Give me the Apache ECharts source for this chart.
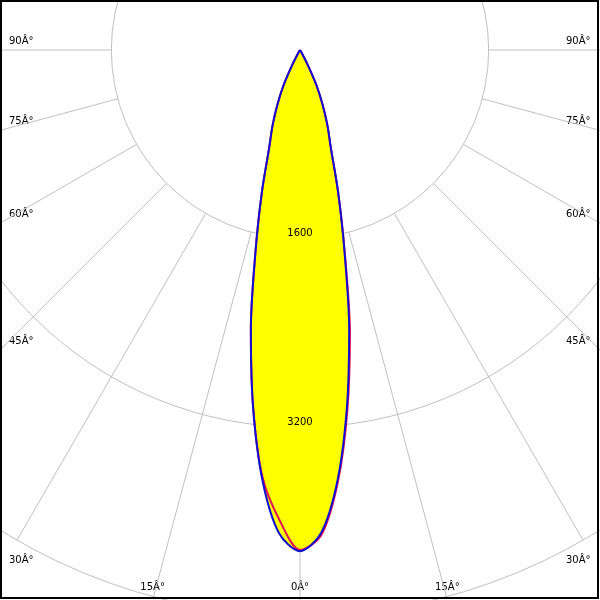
<!DOCTYPE html>
<html>
<head>
<meta charset="utf-8">
<script src="https://cdn.jsdelivr.net/npm/echarts@6/dist/echarts.min.js"></script>
<style>html,body{margin:0;padding:0;background:#fff}#c{width:600px;height:600px}</style>
</head>
<body>
<div id="c"></div>
<script>
// gamma angles (deg), negative = left side
const gammaAngles = [-90,-80,-70,-60,-50,-40,-35,-32.5,-30,-27.5,-25,-22.5,-20,-17.5,-15,-12.5,-10,-7.5,-5,-2.5,0,2.5,5,7.5,10,12.5,15,17.5,20,22.5,25,27.5,30,32.5,35,40,50,60,70,80,90];
// C0-C180 plane intensity (cd)
const intensityC0 = [0,0,0,0,0,0,0,0,30,140,330,500,680,870,1250,1740,2400,3050,3660,4100,4250,4100,3660,3050,2400,1740,1250,870,680,500,330,140,30,0,0,0,0,0,0,0,0];
// C90-C270 plane intensity (cd)
const intensityC90 = [0,0,0,0,0,0,0,0,30,140,330,500,680,870,1250,1740,2400,3050,3640,3990,4240,4120,3680,3080,2440,1750,1250,870,680,500,330,140,30,0,0,0,0,0,0,0,0];
const radiusTicks = ['1600','3200'];
const sideAngleLabels = [90,75,60,45,30];
const bottomAngleLabels = [15,0,15];
const bottomAngles = [-15,0,15];

const CX = 300, CY = 50, R = 566, RMAX = 4800;

const pairs = (vals) => vals.map((v,i)=>[v, gammaAngles[i]]);

const graphics = [];
const font = '10px "DejaVu Sans"';
sideAngleLabels.forEach(a=>{
  const rad = a*Math.PI/180;
  const yHit = CY + 300*Math.cos(rad)/Math.sin(rad);
  graphics.push({type:'text', style:{text:a+'Â°', x:9, y:yHit-9, font:font, fill:'#000', verticalAlign:'middle', align:'left'}});
  graphics.push({type:'text', style:{text:a+'Â°', x:566, y:yHit-9, font:font, fill:'#000', verticalAlign:'middle', align:'left'}});
});
bottomAngles.forEach((a,i)=>{
  const rad = a*Math.PI/180;
  const xHit = CX + 550*Math.tan(rad);
  graphics.push({type:'text', style:{text:bottomAngleLabels[i]+'Â°', x:xHit, y:587, font:font, fill:'#000', verticalAlign:'middle', align:'center'}});
});
radiusTicks.forEach((t,i)=>{
  const r = (i+1)*R/3;
  graphics.push({type:'text', z:10, style:{text:t, x:CX, y:CY+r-5, font:font, fill:'#000', verticalAlign:'middle', align:'center'}});
});
graphics.push({type:'rect', z:100, shape:{x:1,y:1,width:597,height:597}, style:{fill:null, stroke:'#000', lineWidth:2}});

const chart = echarts.init(document.getElementById('c'), null, {renderer:'canvas'});
chart.setOption({
  animation:false,
  backgroundColor:'#fff',
  polar:[{center:[CX,CY], radius:[0,R]},{center:[CX,CY], radius:[R/3,R]}],
  radiusAxis:[
    {polarIndex:0, type:'value', min:0, max:RMAX, interval:1600, axisLine:{show:false}, axisTick:{show:false}, axisLabel:{show:false}, splitLine:{show:true, lineStyle:{color:'#c0c0c0', width:1}}},
    {polarIndex:1, type:'value', min:0, max:1, axisLine:{show:false}, axisTick:{show:false}, axisLabel:{show:false}, splitLine:{show:false}}
  ],
  angleAxis:[
    {polarIndex:0, type:'value', min:-180, max:180, startAngle:90, clockwise:false, axisLine:{show:false}, axisTick:{show:false}, axisLabel:{show:false}, splitLine:{show:false}},
    {polarIndex:1, type:'value', min:-180, max:180, interval:15, startAngle:90, clockwise:false, axisLine:{show:false}, axisTick:{show:false}, axisLabel:{show:false}, splitLine:{show:true, lineStyle:{color:'#c0c0c0', width:1}}}
  ],
  series:[
    {type:'line', coordinateSystem:'polar', polarIndex:0, data:pairs(intensityC0), showSymbol:false, smooth:0.3, lineStyle:{width:0}, areaStyle:{color:'#ffff00', opacity:1}, z:2},
    {type:'line', coordinateSystem:'polar', polarIndex:0, data:pairs(intensityC90), showSymbol:false, smooth:0.3, lineStyle:{color:'#e0105a', width:2}, z:3},
    {type:'line', coordinateSystem:'polar', polarIndex:0, data:pairs(intensityC0), showSymbol:false, smooth:0.3, lineStyle:{color:'#1010d0', width:2}, z:4}
  ],
  graphic:graphics
});
</script>
</body>
</html>
